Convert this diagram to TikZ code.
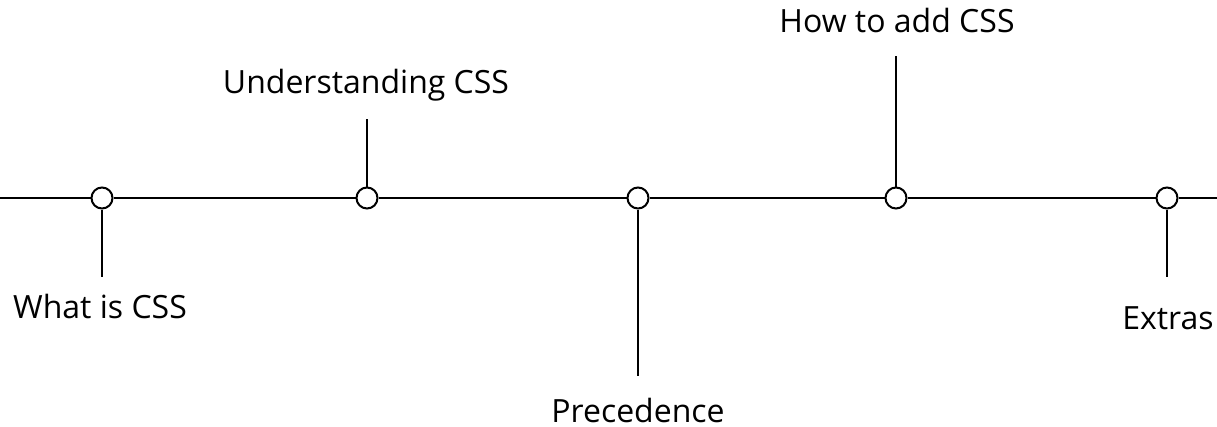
\documentclass[tikz,border=0pt]{standalone}
\usepackage{fontspec}
\setmainfont{Open Sans}
\begin{document}
\begin{tikzpicture}[x=1pt,y=-1pt,
  dot/.style={circle,draw,line width=2pt,fill=white,minimum size=21pt,inner sep=0pt},
  mainline/.style={line width=2pt},
  stem/.style={line width=1.6pt},
  lbl/.style={anchor=base,font=\fontsize{32}{38}\selectfont,inner sep=0pt,text depth=0pt}]
\useasboundingbox (0,0) rectangle (1217,426);
\coordinate (L) at (0,198);
\coordinate (R) at (1217,198);
\node[dot] (c1) at (102,198) {};
\node[dot] (c2) at (367,198) {};
\node[dot] (c3) at (638,198) {};
\node[dot] (c4) at (896,198) {};
\node[dot] (c5) at (1167,198) {};
\draw[mainline] (L) -- (c1) -- (c2) -- (c3) -- (c4) -- (c5) -- (R);
\coordinate (e1) at (102,277);
\coordinate (e2) at (367,119);
\coordinate (e3) at (638,376);
\coordinate (e4) at (896,56);
\coordinate (e5) at (1167,277);
\draw[stem] (c1) -- (e1);
\draw[stem] (c2) -- (e2);
\draw[stem] (c3) -- (e3);
\draw[stem] (c4) -- (e4);
\draw[stem] (c5) -- (e5);
\node[lbl] (t1) at (100,318) {What is CSS};
\node[lbl] (t2) at (366,93) {Understanding CSS};
\node[lbl] (t3) at (638,422) {Precedence};
\node[lbl] (t4) at (897,32) {How to add CSS};
\node[lbl] (t5) at (1168,329) {Extras};
\end{tikzpicture}
\end{document}
